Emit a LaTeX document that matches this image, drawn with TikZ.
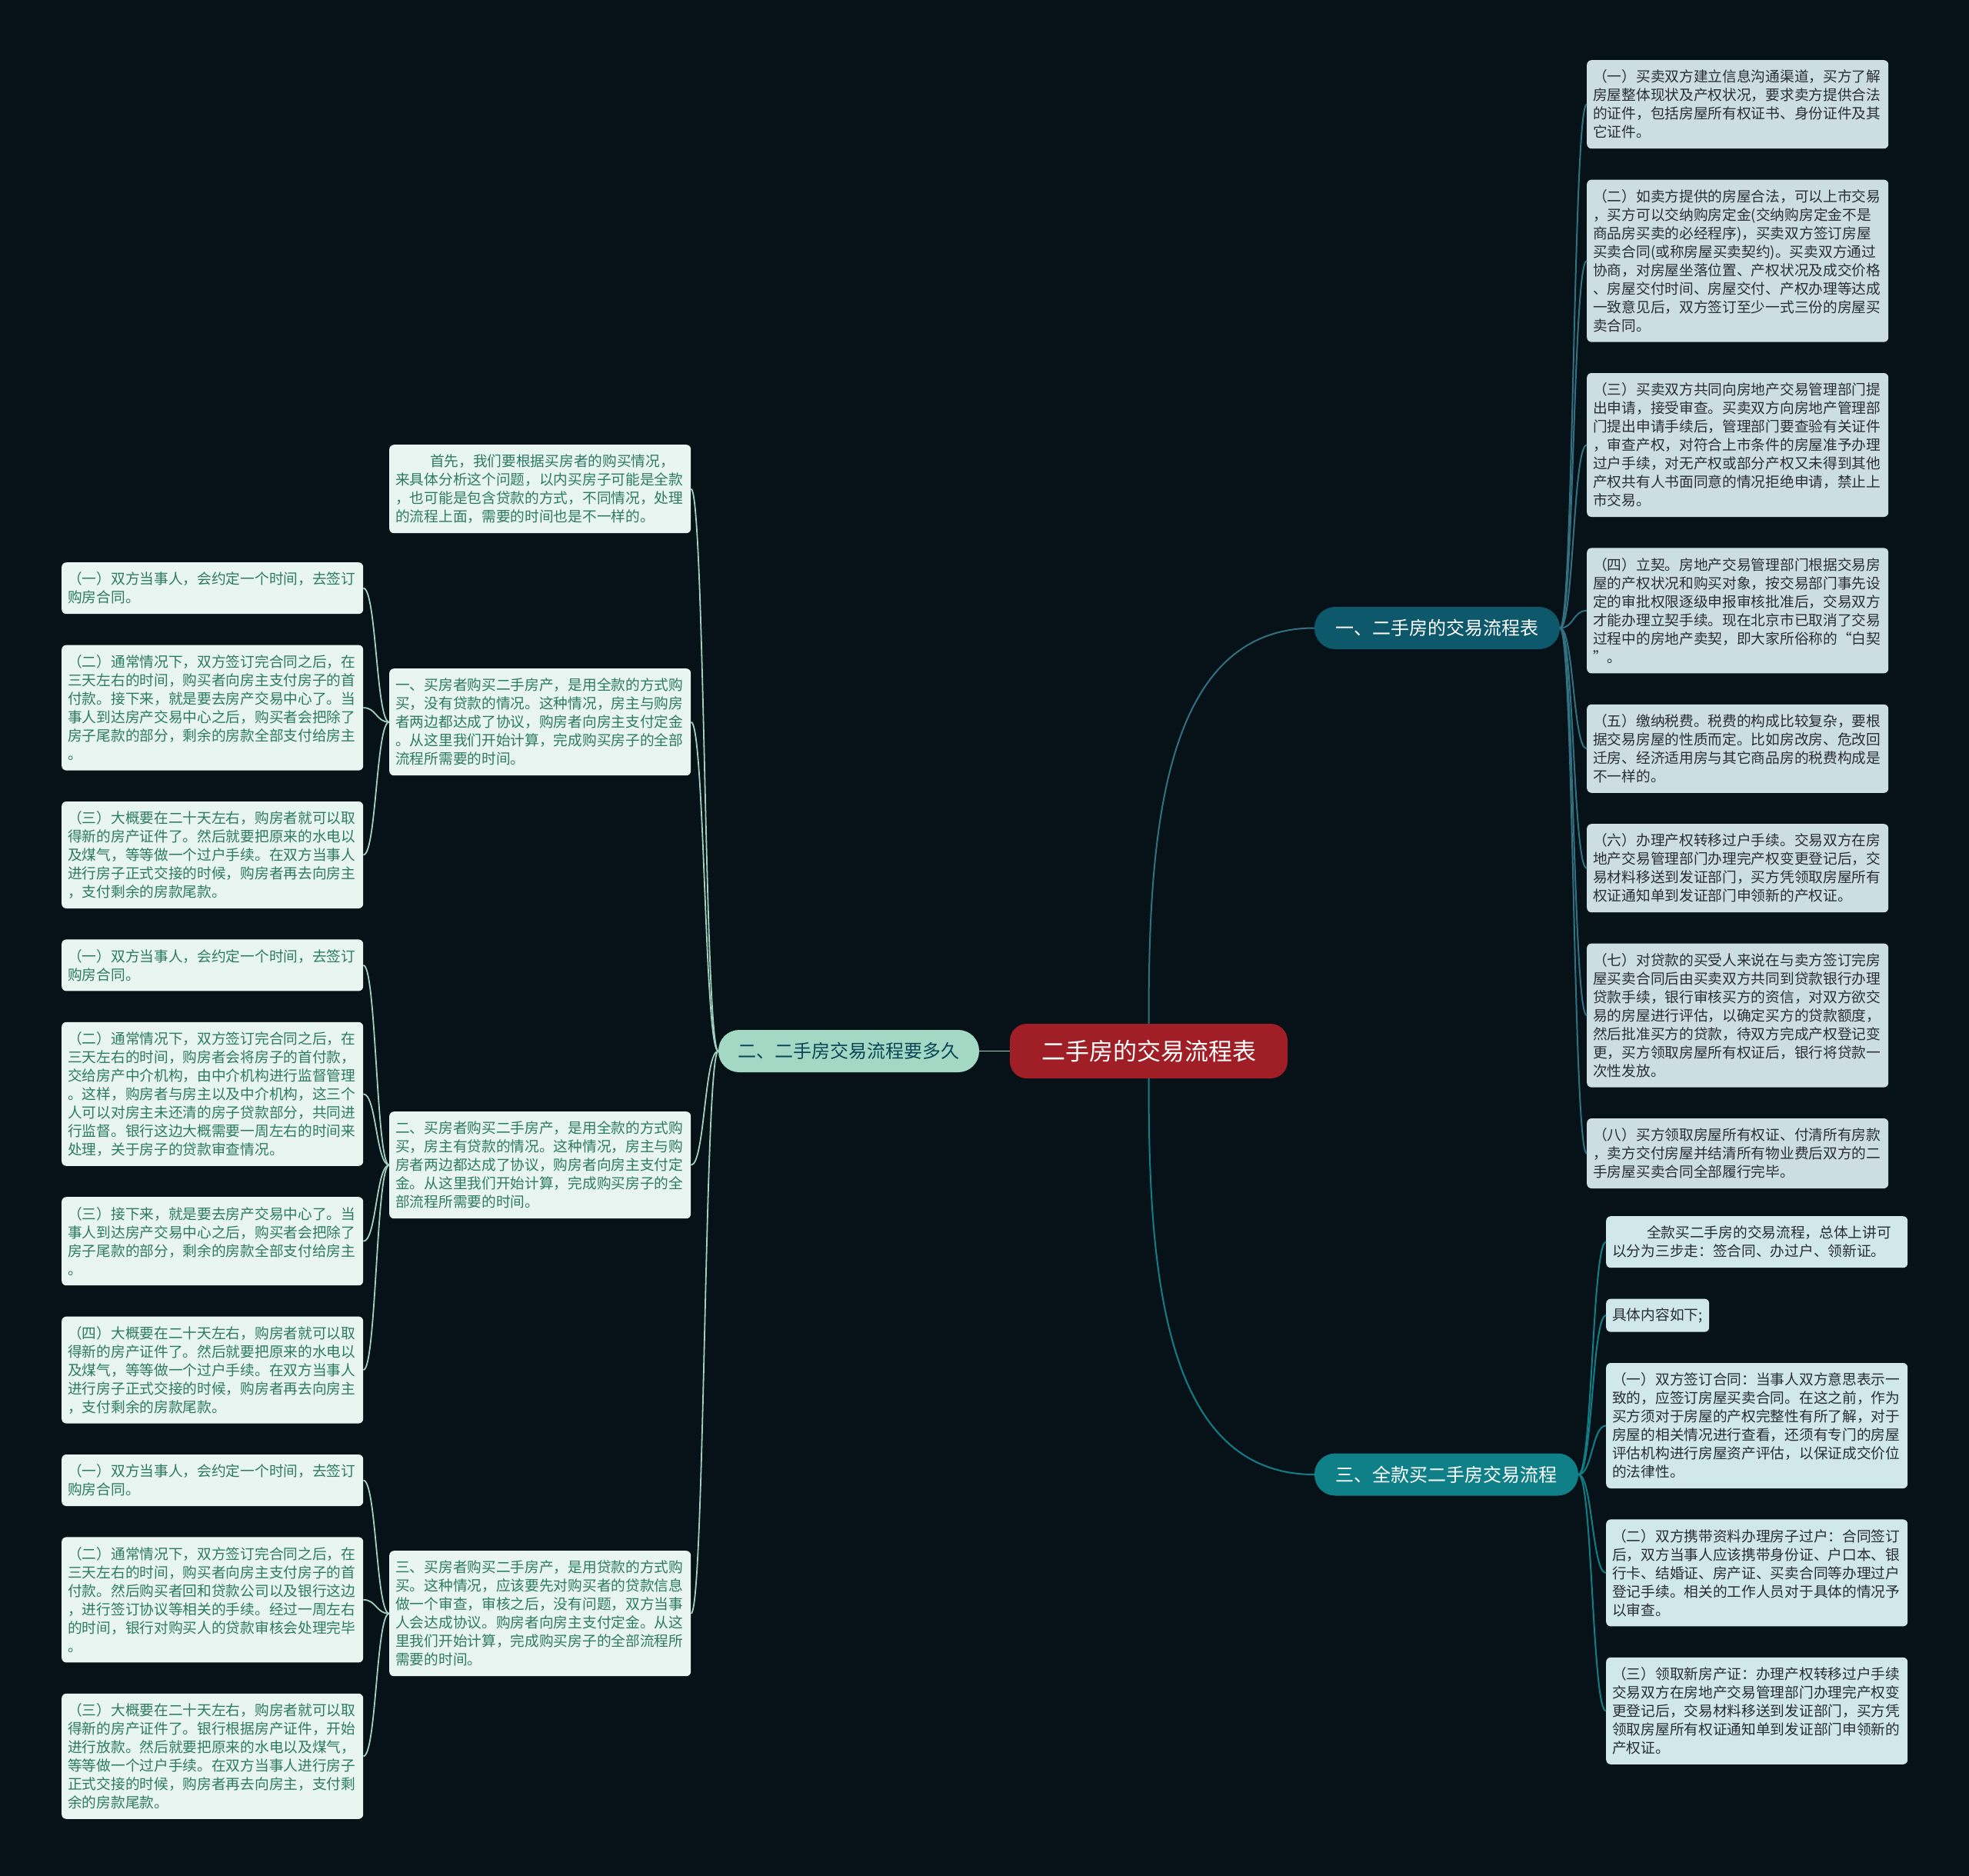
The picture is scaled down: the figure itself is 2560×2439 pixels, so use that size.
\documentclass[tikz,border=0pt]{standalone}
\usepackage{fontspec}
\newfontfamily\cjk{Noto Sans CJK SC}
\usepackage{xcolor}
\usepackage{tikz}
\usetikzlibrary{positioning}
\definecolor{bgdark}{RGB}{7,18,24}
\definecolor{rootred}{RGB}{160,30,38}
\definecolor{tealdark}{RGB}{14,88,108}
\definecolor{tealmid}{RGB}{16,128,136}
\definecolor{mint}{RGB}{163,216,196}
\definecolor{mintline}{RGB}{160,210,190}
\definecolor{mintpale}{RGB}{232,245,240}
\definecolor{greytxt}{RGB}{40,46,52}
\definecolor{greentxt}{RGB}{45,122,98}
\definecolor{bluegrey}{RGB}{205,222,227}
\definecolor{cyanpale}{RGB}{208,232,233}

\begin{document}
\begin{tikzpicture}[x=1pt, y=-1pt,
  node distance=40pt,
  root/.style={fill=rootred, text=white, rounded corners=22pt, align=center,
              font=\cjk\fontsize{31pt}{36pt}\selectfont,
              minimum width=361pt, minimum height=71pt},
  branch/.style={rounded corners=27pt, align=center,
              font=\cjk\fontsize{24pt}{28pt}\selectfont, minimum height=55pt},
  leaf/.style={rounded corners=6pt, align=left, text width=376pt,
              inner xsep=8pt, inner ysep=3pt,
              font=\cjk\fontsize{18.7pt}{24pt}\selectfont,
              minimum height=#1*24pt+19pt},
  boxR/.style={leaf=#1, fill=bluegrey, text=greytxt},
  boxS/.style={leaf=#1, fill=cyanpale, text=greytxt},
  boxM/.style={leaf=#1, fill=mintpale, text=greentxt},
  linkA/.style={draw=tealdark!85!white, line width=2pt},
  linkC/.style={draw=tealmid, line width=2pt},
  linkB/.style={draw=mintline, line width=1.8pt}]
\path[use as bounding box, fill=bgdark] (0,0) rectangle (2560,2439);

% centre and main branches
\node[root] (root) at (1493.5,1366.5) {二手房的交易流程表};
\node[branch, fill=tealdark, text=white, minimum width=319pt] (br1) at (1868.5,816.5) {一、二手房的交易流程表};
\node[branch, fill=mint, text=tealdark!80!black, minimum width=339pt] (br2) at (1103.5,1366.5) {二、二手房交易流程要多久};
\node[branch, fill=tealmid, text=white, minimum width=343pt] (br3) at (1880.5,1917) {三、全款买二手房交易流程};

% right upper: the eight steps
\node[boxR=4, anchor=north west] (r1) at (2063,78) {（一）买卖双方建立信息沟通渠道，买方了解\\房屋整体现状及产权状况，要求卖方提供合法\\的证件，包括房屋所有权证书、身份证件及其\\它证件。};
\node[boxR=8, below=of r1] (r2) {（二）如卖方提供的房屋合法，可以上市交易\\，买方可以交纳购房定金(交纳购房定金不是\\商品房买卖的必经程序)，买卖双方签订房屋\\买卖合同(或称房屋买卖契约)。买卖双方通过\\协商，对房屋坐落位置、产权状况及成交价格\\、房屋交付时间、房屋交付、产权办理等达成\\一致意见后，双方签订至少一式三份的房屋买\\卖合同。};
\node[boxR=7, below=of r2] (r3) {（三）买卖双方共同向房地产交易管理部门提\\出申请，接受审查。买卖双方向房地产管理部\\门提出申请手续后，管理部门要查验有关证件\\，审查产权，对符合上市条件的房屋准予办理\\过户手续，对无产权或部分产权又未得到其他\\产权共有人书面同意的情况拒绝申请，禁止上\\市交易。};
\node[boxR=6, below=of r3] (r4) {（四）立契。房地产交易管理部门根据交易房\\屋的产权状况和购买对象，按交易部门事先设\\定的审批权限逐级申报审核批准后，交易双方\\才能办理立契手续。现在北京市已取消了交易\\过程中的房地产卖契，即大家所俗称的“白契\\”。};
\node[boxR=4, below=of r4] (r5) {（五）缴纳税费。税费的构成比较复杂，要根\\据交易房屋的性质而定。比如房改房、危改回\\迁房、经济适用房与其它商品房的税费构成是\\不一样的。};
\node[boxR=4, below=of r5] (r6) {（六）办理产权转移过户手续。交易双方在房\\地产交易管理部门办理完产权变更登记后，交\\易材料移送到发证部门，买方凭领取房屋所有\\权证通知单到发证部门申领新的产权证。};
\node[boxR=7, below=of r6] (r7) {（七）对贷款的买受人来说在与卖方签订完房\\屋买卖合同后由买卖双方共同到贷款银行办理\\贷款手续，银行审核买方的资信，对双方欲交\\易的房屋进行评估，以确定买方的贷款额度，\\然后批准买方的贷款，待双方完成产权登记变\\更，买方领取房屋所有权证后，银行将贷款一\\次性发放。};
\node[boxR=3, below=of r7] (r8) {（八）买方领取房屋所有权证、付清所有房款\\，卖方交付房屋并结清所有物业费后双方的二\\手房屋买卖合同全部履行完毕。};

% right lower: full payment
\node[boxS=2, anchor=north west] (s1) at (2088,1581) {\hspace*{2.4em}全款买二手房的交易流程，总体上讲可\\以分为三步走：签合同、办过户、领新证。};
\node[boxS=1, text width=118pt, below=of s1.south west, anchor=north west] (s2) {具体内容如下;};
\node[boxS=6, below=of s2.south west, anchor=north west] (s3) {（一）双方签订合同：当事人双方意思表示一\\致的，应签订房屋买卖合同。在这之前，作为\\买方须对于房屋的产权完整性有所了解，对于\\房屋的相关情况进行查看，还须有专门的房屋\\评估机构进行房屋资产评估，以保证成交价位\\的法律性。};
\node[boxS=5, below=of s3] (s4) {（二）双方携带资料办理房子过户：合同签订\\后，双方当事人应该携带身份证、户口本、银\\行卡、结婚证、房产证、买卖合同等办理过户\\登记手续。相关的工作人员对于具体的情况予\\以审查。};
\node[boxS=5, below=of s4] (s5) {（三）领取新房产证：办理产权转移过户手续\\交易双方在房地产交易管理部门办理完产权变\\更登记后，交易材料移送到发证部门，买方凭\\领取房屋所有权证通知单到发证部门申领新的\\产权证。};

% left: how long it takes
\node[boxM=4, anchor=north west] (m0) at (506,578) {\hspace*{2.4em}首先，我们要根据买房者的购买情况，\\来具体分析这个问题，以内买房子可能是全款\\，也可能是包含贷款的方式，不同情况，处理\\的流程上面，需要的时间也是不一样的。};
\node[boxM=5, anchor=north west] (m1) at (506,869) {一、买房者购买二手房产，是用全款的方式购\\买，没有贷款的情况。这种情况，房主与购房\\者两边都达成了协议，购房者向房主支付定金\\。从这里我们开始计算，完成购买房子的全部\\流程所需要的时间。};
\node[boxM=5, anchor=north west] (m2) at (506,1445) {二、买房者购买二手房产，是用全款的方式购\\买，房主有贷款的情况。这种情况，房主与购\\房者两边都达成了协议，购房者向房主支付定\\金。从这里我们开始计算，完成购买房子的全\\部流程所需要的时间。};
\node[boxM=6, anchor=north west] (m3) at (506,2016) {三、买房者购买二手房产，是用贷款的方式购\\买。这种情况，应该要先对购买者的贷款信息\\做一个审查，审核之后，没有问题，双方当事\\人会达成协议。购房者向房主支付定金。从这\\里我们开始计算，完成购买房子的全部流程所\\需要的时间。};

\node[boxM=2, anchor=north west] (ga1) at (80,731) {（一）双方当事人，会约定一个时间，去签订\\购房合同。};
\node[boxM=6, below=of ga1] (ga2) {（二）通常情况下，双方签订完合同之后，在\\三天左右的时间，购买者向房主支付房子的首\\付款。接下来，就是要去房产交易中心了。当\\事人到达房产交易中心之后，购买者会把除了\\房子尾款的部分，剩余的房款全部支付给房主\\。};
\node[boxM=5, below=of ga2] (ga3) {（三）大概要在二十天左右，购房者就可以取\\得新的房产证件了。然后就要把原来的水电以\\及煤气，等等做一个过户手续。在双方当事人\\进行房子正式交接的时候，购房者再去向房主\\，支付剩余的房款尾款。};
\node[boxM=2, below=of ga3] (gb1) {（一）双方当事人，会约定一个时间，去签订\\购房合同。};
\node[boxM=7, below=of gb1] (gb2) {（二）通常情况下，双方签订完合同之后，在\\三天左右的时间，购房者会将房子的首付款，\\交给房产中介机构，由中介机构进行监督管理\\。这样，购房者与房主以及中介机构，这三个\\人可以对房主未还清的房子贷款部分，共同进\\行监督。银行这边大概需要一周左右的时间来\\处理，关于房子的贷款审查情况。};
\node[boxM=4, below=of gb2] (gb3) {（三）接下来，就是要去房产交易中心了。当\\事人到达房产交易中心之后，购买者会把除了\\房子尾款的部分，剩余的房款全部支付给房主\\。};
\node[boxM=5, below=of gb3] (gb4) {（四）大概要在二十天左右，购房者就可以取\\得新的房产证件了。然后就要把原来的水电以\\及煤气，等等做一个过户手续。在双方当事人\\进行房子正式交接的时候，购房者再去向房主\\，支付剩余的房款尾款。};
\node[boxM=2, below=of gb4] (gc1) {（一）双方当事人，会约定一个时间，去签订\\购房合同。};
\node[boxM=6, below=of gc1] (gc2) {（二）通常情况下，双方签订完合同之后，在\\三天左右的时间，购买者向房主支付房子的首\\付款。然后购买者回和贷款公司以及银行这边\\，进行签订协议等相关的手续。经过一周左右\\的时间，银行对购买人的贷款审核会处理完毕\\。};
\node[boxM=6, below=of gc2] (gc3) {（三）大概要在二十天左右，购房者就可以取\\得新的房产证件了。银行根据房产证件，开始\\进行放款。然后就要把原来的水电以及煤气，\\等等做一个过户手续。在双方当事人进行房子\\正式交接的时候，购房者再去向房主，支付剩\\余的房款尾款。};

% connectors
\draw[linkA] (root.north) .. controls +(0,-240) and +(-200,0) .. (br1.west);
\draw[linkC] (root.south) .. controls +(0,240) and +(-200,0) .. (br3.west);
\draw[linkB] (root.west) -- (br2.east);
\draw[linkA] (br1.east) .. controls +(18,0) and +(-18,0) .. (r1.west);
\draw[linkA] (br1.east) .. controls +(18,0) and +(-18,0) .. (r2.west);
\draw[linkA] (br1.east) .. controls +(18,0) and +(-18,0) .. (r3.west);
\draw[linkA] (br1.east) .. controls +(18,0) and +(-18,0) .. (r4.west);
\draw[linkA] (br1.east) .. controls +(18,0) and +(-18,0) .. (r5.west);
\draw[linkA] (br1.east) .. controls +(18,0) and +(-18,0) .. (r6.west);
\draw[linkA] (br1.east) .. controls +(18,0) and +(-18,0) .. (r7.west);
\draw[linkA] (br1.east) .. controls +(18,0) and +(-18,0) .. (r8.west);
\draw[linkC] (br3.east) .. controls +(18,0) and +(-18,0) .. (s1.west);
\draw[linkC] (br3.east) .. controls +(18,0) and +(-18,0) .. (s2.west);
\draw[linkC] (br3.east) .. controls +(18,0) and +(-18,0) .. (s3.west);
\draw[linkC] (br3.east) .. controls +(18,0) and +(-18,0) .. (s4.west);
\draw[linkC] (br3.east) .. controls +(18,0) and +(-18,0) .. (s5.west);
\draw[linkB] (br2.west) .. controls +(-18,0) and +(18,0) .. (m0.east);
\draw[linkB] (br2.west) .. controls +(-18,0) and +(18,0) .. (m1.east);
\draw[linkB] (br2.west) .. controls +(-18,0) and +(18,0) .. (m2.east);
\draw[linkB] (br2.west) .. controls +(-18,0) and +(18,0) .. (m3.east);
\draw[linkB] (m1.west) .. controls +(-17,0) and +(17,0) .. (ga1.east);
\draw[linkB] (m1.west) .. controls +(-17,0) and +(17,0) .. (ga2.east);
\draw[linkB] (m1.west) .. controls +(-17,0) and +(17,0) .. (ga3.east);
\draw[linkB] (m2.west) .. controls +(-17,0) and +(17,0) .. (gb1.east);
\draw[linkB] (m2.west) .. controls +(-17,0) and +(17,0) .. (gb2.east);
\draw[linkB] (m2.west) .. controls +(-17,0) and +(17,0) .. (gb3.east);
\draw[linkB] (m2.west) .. controls +(-17,0) and +(17,0) .. (gb4.east);
\draw[linkB] (m3.west) .. controls +(-17,0) and +(17,0) .. (gc1.east);
\draw[linkB] (m3.west) .. controls +(-17,0) and +(17,0) .. (gc2.east);
\draw[linkB] (m3.west) .. controls +(-17,0) and +(17,0) .. (gc3.east);
\end{tikzpicture}
\end{document}
